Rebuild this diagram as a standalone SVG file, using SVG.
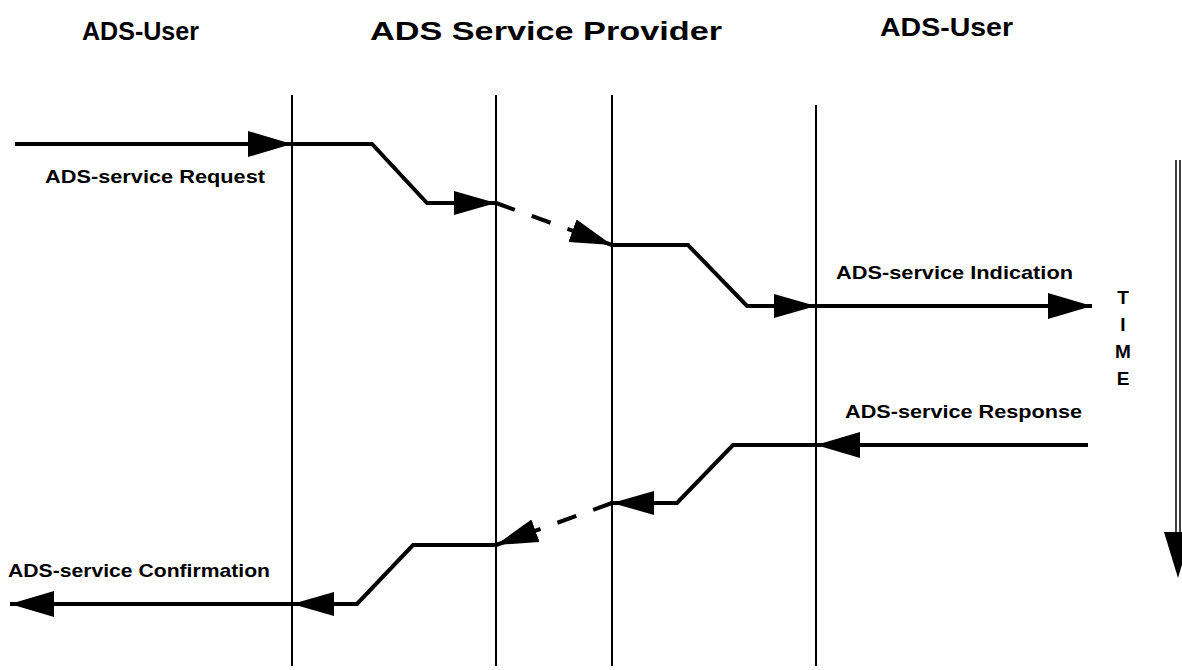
<svg xmlns="http://www.w3.org/2000/svg" width="1182" height="670" viewBox="0 0 1182 670">
<style>
  .hdr { font-family: "Liberation Sans", Arial, sans-serif; font-weight: bold; font-size: 25px; fill: #000; }
  .lbl { font-family: "Liberation Sans", Arial, sans-serif; font-weight: bold; font-size: 19px; fill: #000; }
  .tm { font-family: "Liberation Sans", Arial, sans-serif; font-weight: bold; font-size: 19px; fill: #000; }
  .life { stroke: #000; stroke-width: 2; fill: none; }
  .msg { stroke: #000; stroke-width: 4; fill: none; stroke-linejoin: miter; }
  .dash { stroke-dasharray: 20 18; }
  .time { stroke: #000; stroke-width: 1.5; fill: none; }
</style>
<defs>
  <marker id="ah" markerUnits="userSpaceOnUse" markerWidth="46" markerHeight="28" refX="44" refY="13" orient="auto">
    <path d="M0,0 L44,13 L0,26 z" fill="#000"/>
  </marker>
  <marker id="ahs" markerUnits="userSpaceOnUse" markerWidth="44" markerHeight="26" refX="42" refY="12" orient="auto">
    <path d="M0,0 L42,12 L0,24 z" fill="#000"/>
  </marker>
</defs>

<g id="headers">
  <text class="hdr" x="82" y="40" textLength="117" lengthAdjust="spacingAndGlyphs">ADS-User</text>
  <text class="hdr" x="370" y="40" textLength="352" lengthAdjust="spacingAndGlyphs">ADS Service Provider</text>
  <text class="hdr" x="880" y="36" textLength="133" lengthAdjust="spacingAndGlyphs">ADS-User</text>
</g>

<g id="lifelines">
  <line class="life" x1="292" y1="95" x2="292" y2="666"/>
  <line class="life" x1="496" y1="95" x2="496" y2="666"/>
  <line class="life" x1="612" y1="95" x2="612" y2="666"/>
  <line class="life" x1="816" y1="105" x2="816" y2="666"/>
</g>

<g id="connectors">
  <line class="msg" x1="15" y1="144" x2="292" y2="144" marker-end="url(#ah)"/>
  <polyline class="msg" points="292,144 372,144 427,203 496,203" marker-end="url(#ahs)"/>
  <line class="msg dash" x1="496" y1="203" x2="612" y2="245" marker-end="url(#ahs)"/>
  <polyline class="msg" points="612,245 688,245 747,306 816,306" marker-end="url(#ahs)"/>
  <line class="msg" x1="816" y1="306" x2="1092" y2="306" marker-end="url(#ah)"/>

  <line class="msg" x1="1088" y1="445" x2="816" y2="445" marker-end="url(#ah)"/>
  <polyline class="msg" points="816,445 733,445 677,503 612,503" marker-end="url(#ahs)"/>
  <line class="msg dash" x1="612" y1="503" x2="496" y2="545" marker-end="url(#ahs)"/>
  <polyline class="msg" points="496,545 413,545 357,604 292,604" marker-end="url(#ahs)"/>
  <line class="msg" x1="292" y1="604" x2="10" y2="604" marker-end="url(#ah)"/>
</g>

<g id="labels">
  <text class="lbl" x="45" y="183" textLength="220" lengthAdjust="spacingAndGlyphs">ADS-service Request</text>
  <text class="lbl" x="836" y="279" textLength="237" lengthAdjust="spacingAndGlyphs">ADS-service Indication</text>
  <text class="lbl" x="845" y="418" textLength="237" lengthAdjust="spacingAndGlyphs">ADS-service Response</text>
  <text class="lbl" x="8" y="577" textLength="262" lengthAdjust="spacingAndGlyphs">ADS-service Confirmation</text>
</g>

<g id="time">
  <text class="tm" x="1123" y="304" text-anchor="middle">T</text>
  <text class="tm" x="1123" y="331" text-anchor="middle">I</text>
  <text class="tm" x="1123" y="358" text-anchor="middle">M</text>
  <text class="tm" x="1123" y="385" text-anchor="middle">E</text>
  <line class="time" x1="1176" y1="160" x2="1176" y2="540"/>
  <line class="time" x1="1180" y1="160" x2="1180" y2="540"/>
  <path d="M1164,532 L1192,532 L1178,578 z" fill="#000"/>
</g>
</svg>
